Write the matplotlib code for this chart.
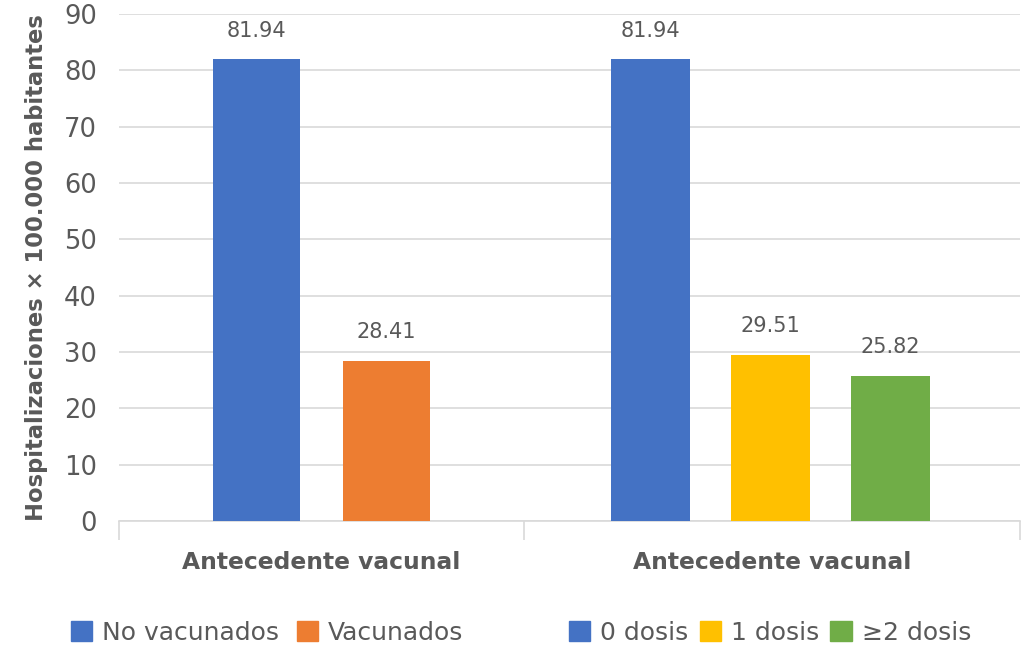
import matplotlib.pyplot as plt
from matplotlib.patches import Patch

# Data
group_label = 'Antecedente vacunal'
left_names = ['No vacunados', 'Vacunados']
left_values = [81.94, 28.41]
left_colors = ['#4472C4', '#ED7D31']
right_names = ['0 dosis', '1 dosis', '\u22652 dosis']
right_values = [81.94, 29.51, 25.82]
right_colors = ['#4472C4', '#FFC000', '#70AD47']
yticks = list(range(0, 91, 10))

text_color = '#595959'
grid_color = '#D9D9D9'
plt.rcParams['font.family'] = ['DejaVu Sans']

fig = plt.figure(figsize=(10.25, 6.47), dpi=100)
ax = fig.add_axes([119 / 1025, 1 - 521 / 647, 901 / 1025, 507 / 647])

# layout of the two groups (in axis units = pixels of the plot area)
left_span, right_span = 405, 496
left_center = left_span / 2
right_center = left_span + right_span / 2 - 1.5
left_step, left_w = 130, 87
right_step, right_w = 120, 79

lx = [left_center + (i - (len(left_values) - 1) / 2) * left_step for i in range(len(left_values))]
rx = [right_center + (i - (len(right_values) - 1) / 2) * right_step for i in range(len(right_values))]

b1 = ax.bar(lx, left_values, width=left_w, color=left_colors, zorder=3)
b2 = ax.bar(rx, right_values, width=right_w, color=right_colors, zorder=3)
for bars in (b1, b2):
    ax.bar_label(bars, labels=[f'{v:.2f}' for v in bars.datavalues], padding=13.5,
                 fontsize=15, color=text_color)

ax.set_xlim(0, left_span + right_span)
ax.set_ylim(0, 90)
ax.set_yticks(yticks)
ax.tick_params(axis='y', length=0, labelsize=18.5, labelcolor=text_color, pad=16)
ax.yaxis.grid(True, color=grid_color, linewidth=1.2, zorder=0)

for s in ['top', 'right', 'left']:
    ax.spines[s].set_visible(False)
ax.spines['bottom'].set_color(grid_color)
ax.spines['bottom'].set_linewidth(1.2)
ax.set_xticks([0, left_span, left_span + right_span])
ax.set_xticklabels([])
ax.tick_params(axis='x', length=14, width=1.2, color=grid_color)

ax.text(left_center, -7.3, group_label, ha='center', va='center', fontsize=16.8,
        fontweight='bold', color=text_color)
ax.text(left_span + right_span / 2, -7.3, group_label, ha='center', va='center', fontsize=16.8,
        fontweight='bold', color=text_color)

fig.text(37 / 1025, 1 - 268 / 647, 'Hospitalizaciones \u00d7 100.000 habitantes', rotation=90,
         ha='center', va='center', fontsize=16.3, fontweight='bold', color=text_color)

leg_kw = dict(frameon=False, fontsize=18, labelcolor=text_color, handlelength=0.85,
              handleheight=0.85, handletextpad=0.4, borderpad=0)
h1 = [Patch(color=c, label=n) for c, n in zip(left_colors, left_names)]
h2 = [Patch(color=c, label=n) for c, n in zip(right_colors, right_names)]
fig.legend(handles=h1, ncol=2, loc='center', columnspacing=0.7,
           bbox_to_anchor=(267 / 1025, 1 - 633 / 647), **leg_kw)
fig.legend(handles=h2, ncol=3, loc='center', columnspacing=0.45,
           bbox_to_anchor=(770 / 1025, 1 - 633 / 647), **leg_kw)

fig.savefig('out.png', dpi=100)
